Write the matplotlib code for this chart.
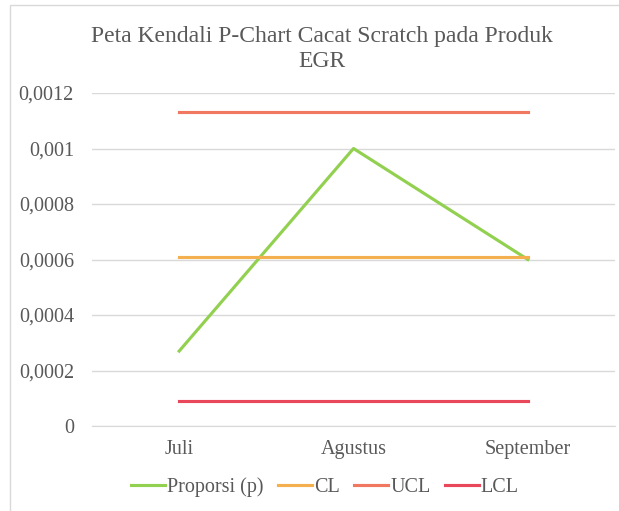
import matplotlib.pyplot as plt
from matplotlib.patches import Rectangle
from matplotlib.ticker import FuncFormatter

plt.rcParams['font.family'] = ['Liberation Serif', 'DejaVu Serif']

# data
bulan = ["Juli", "Agustus", "September"]
proporsi = [0.00027, 0.001, 0.0006]
cl = [0.00061, 0.00061, 0.00061]
ucl = [0.00113, 0.00113, 0.00113]
lcl = [0.00009, 0.00009, 0.00009]
y_ticks = [0, 0.0002, 0.0004, 0.0006, 0.0008, 0.001, 0.0012]

fig = plt.figure(figsize=(6.19, 5.11), dpi=100)
# chart border (excel style)
fig.patches.append(Rectangle((10 / 619, -0.1), 1.1, 1 - 5 / 511 + 0.1,
                             transform=fig.transFigure, fill=False,
                             edgecolor="#d9d9d9", linewidth=1))

ax = fig.add_axes([92 / 619, 1 - 426 / 511, (615 - 92) / 619, (426 - 93) / 511])
x = range(len(bulan))
ax.plot(x, proporsi, color="#92D050", lw=2.25, label="Proporsi (p)")
ax.plot(x, cl, color="#F4B04F", lw=2.25, label="CL")
ax.plot(x, ucl, color="#F07860", lw=2.25, label="UCL")
ax.plot(x, lcl, color="#E8485A", lw=2.25, label="LCL")

ax.set_xlim(-0.5, 2.5)
ax.set_ylim(0, 0.0012)
ax.set_yticks(y_ticks)
ax.yaxis.set_major_formatter(FuncFormatter(
    lambda v, p: "0" if v == 0 else ("%g" % v).replace(".", ",")))
ax.set_xticks(list(x))
ax.set_xticklabels(bulan)
ax.grid(axis="y", color="#d9d9d9", lw=1)
ax.set_axisbelow(True)
for s in ["top", "right", "left"]:
    ax.spines[s].set_visible(False)
ax.spines["bottom"].set_color("#d9d9d9")
ax.tick_params(length=0, labelsize=14.5, colors="#595959", pad=10)
ax.tick_params(axis="y", pad=13)

fig.text(0.52, 1 - 49 / 511, "Peta Kendali P-Chart Cacat Scratch pada Produk\nEGR",
         ha="center", va="center", fontsize=17, color="#595959", linespacing=1.3)

fig.legend(loc="center", bbox_to_anchor=(0.525, 1 - 487 / 511), ncol=4,
           frameon=False, fontsize=14.5, labelcolor="#595959",
           handlelength=1.7, handletextpad=0.1, columnspacing=0.7)

fig.savefig("out.png", dpi=100)
